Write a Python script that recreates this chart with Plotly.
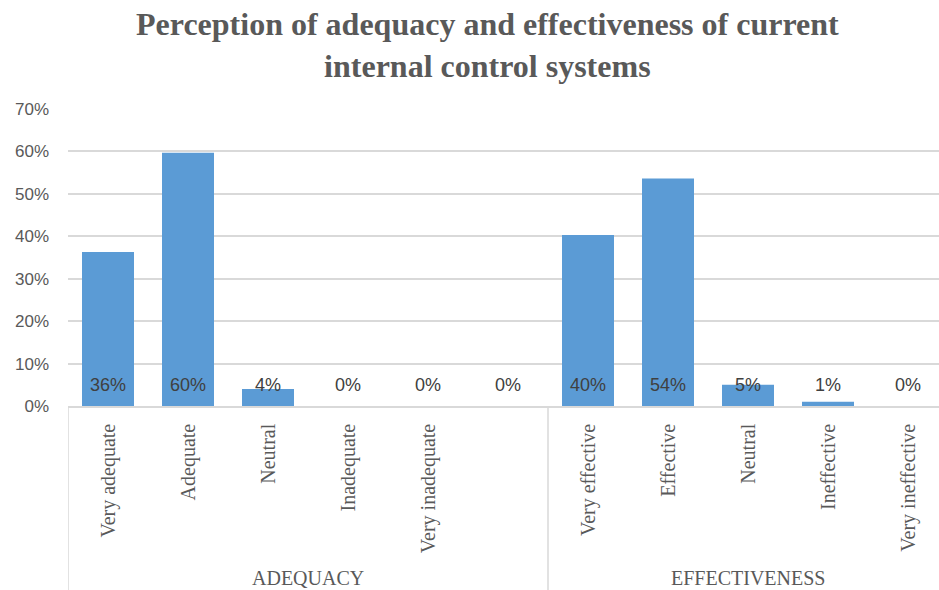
import plotly.graph_objects as go

categories = ["Very adequate", "Adequate", "Neutral", "Inadequate", "Very inadequate", "",
              "Very effective", "Effective", "Neutral", "Ineffective", "Very ineffective"]
groups = ["ADEQUACY", "EFFECTIVENESS"]
group_sizes = [6, 5]
values = [0.363, 0.597, 0.040, 0.0, 0.0, 0.0, 0.403, 0.536, 0.050, 0.010, 0.0]
y_ticks = [0, 0.1, 0.2, 0.3, 0.4, 0.5, 0.6, 0.7]
y_tick_labels = ["0%", "10%", "20%", "30%", "40%", "50%", "60%", "70%"]
title_text = "<b>Perception of adequacy and effectiveness of current<br>internal control systems</b>"

W, H = 939, 590
ML, MR, MT, MB = 68, 0, 109, 184
plot_w = W - ML - MR
plot_h = H - MT - MB
cat_px = 80.0

xs = list(range(len(categories)))

fig = go.Figure()
fig.add_trace(go.Bar(
    x=xs, y=values, width=0.65,
    marker=dict(color="#5b9bd5", line=dict(width=0)),
    hoverinfo="skip",
))

# data labels at the base of each bar
for xi, v in zip(xs, values):
    fig.add_annotation(
        x=xi, y=0, xref="x", yref="y", text=f"{round(v * 100):.0f}%",
        showarrow=False, yanchor="middle", yshift=21,
        font=dict(family="Liberation Sans", size=18, color="#404040"),
    )

# group labels and dividers
start = 0
div_bottom = -MB / plot_h
fig.add_shape(type="line", xref="x", yref="paper", x0=-0.5, x1=-0.5, y0=0, y1=div_bottom,
              line=dict(color="#d9d9d9", width=1.5))
for g, n in zip(groups, group_sizes):
    center = start + (n - 1) / 2
    fig.add_annotation(
        x=center, y=-172 / plot_h, xref="x", yref="paper", text=g, showarrow=False,
        yanchor="middle", font=dict(family="Liberation Serif", size=20, color="#595959"),
    )
    end = start + n - 0.5
    fig.add_shape(type="line", xref="x", yref="paper", x0=end, x1=end, y0=0, y1=div_bottom,
                  line=dict(color="#d9d9d9", width=1.5))
    start += n

# title as centered annotation (chart centre lies slightly right of the visible page)
fig.add_annotation(
    x=(487 - ML) / plot_w, y=(H - MB - 45) / plot_h, xref="paper", yref="paper",
    text=title_text, showarrow=False, xanchor="center", yanchor="middle", align="center",
    font=dict(family="Liberation Serif", size=32, color="#595959"),
)

fig.update_layout(
    width=W, height=H,
    margin=dict(l=ML, r=MR, t=MT, b=MB, pad=0),
    paper_bgcolor="white", plot_bgcolor="white",
    showlegend=False,
    bargap=0.35,
)
fig.update_xaxes(
    range=[-0.5, -0.5 + plot_w / cat_px],
    tickvals=xs, ticktext=categories, tickangle=-90,
    tickfont=dict(family="Liberation Serif", size=20, color="#595959"),
    showgrid=False, zeroline=False, showline=True, linecolor="#d9d9d9", linewidth=1.5,
    ticks="", ticklabelstandoff=8, fixedrange=True,
)
fig.update_yaxes(
    range=[0, 0.7], tickvals=y_ticks, ticktext=y_tick_labels,
    tickfont=dict(family="Liberation Sans", size=17, color="#595959"),
    showgrid=True, gridcolor="#d9d9d9", gridwidth=1.5, zeroline=False, showline=False,
    ticks="", ticklabelstandoff=18, fixedrange=True,
)

fig.write_html("out.html")
